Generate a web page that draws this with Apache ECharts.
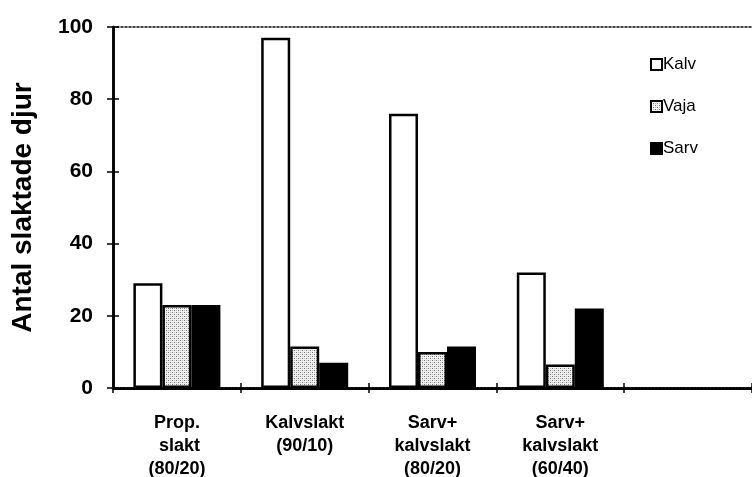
<!DOCTYPE html>
<html><head><meta charset="utf-8">
<script src="https://cdn.jsdelivr.net/npm/echarts@6/dist/echarts.min.js"></script>
<style>html,body{margin:0;padding:0;background:#fff}#c{width:752px;height:477px}</style>
</head><body><div id="c"></div>
<script>
const categories = ['Prop.\n slakt\n(80/20)', 'Kalvslakt\n(90/10)', 'Sarv+\nkalvslakt\n(80/20)', 'Sarv+\nkalvslakt\n(60/40)', ''];
const kalv = [29, 97, 76, 32, null];
const vaja = [23, 11.5, 10, 6.5, null];
const sarv = [23, 7, 11.5, 22, null];
const yTicks = [0, 20, 40, 60, 80, 100];

function makePattern() {
  const c = document.createElement('canvas');
  c.width = 4; c.height = 4;
  const g = c.getContext('2d');
  g.fillStyle = '#f0f0f0'; g.fillRect(0, 0, 4, 4);
  g.fillStyle = '#7a7a7a';
  g.fillRect(0, 0, 1, 1); g.fillRect(2, 2, 1, 1);
  g.fillStyle = '#bcbcbc';
  g.fillRect(2, 0, 1, 1); g.fillRect(0, 2, 1, 1);
  return c;
}
const pattern = { image: makePattern(), repeat: 'repeat' };

const font = "'Liberation Sans', Arial, sans-serif";
const chart = echarts.init(document.getElementById('c'), null, { renderer: 'canvas' });
const barCommon = { type: 'bar', barWidth: 29, barGap: '0%', itemStyle: { borderColor: '#000', borderWidth: 2.5 } };
chart.setOption({
  animation: false,
  backgroundColor: '#fff',
  grid: { left: 113, right: 0, top: 27, bottom: 89, containLabel: false, outerBoundsMode: 'none' },
  legend: {
    orient: 'vertical', left: 645, top: 51, icon: 'rect', itemWidth: 11, itemHeight: 11, itemGap: 25,
    textStyle: { fontFamily: font, fontSize: 17, color: '#000', padding: [0, 0, 0, -4] },
    data: ['Kalv', 'Vaja', 'Sarv']
  },
  xAxis: [
    { type: 'category', data: categories, position: 'bottom',
      axisLine: { onZero: false, lineStyle: { color: '#000', width: 3, type: [2, 1.5] } },
      axisTick: { show: true, length: 5, lineStyle: { color: '#000', width: 1.5 } },
      axisLabel: { interval: 0, margin: 24, fontFamily: font, fontWeight: 'bold', fontSize: 18, color: '#000', lineHeight: 23 } },
    { type: 'category', data: categories, position: 'top',
      axisLine: { onZero: false, lineStyle: { color: '#000', width: 1.5, type: [2, 2] } },
      axisTick: { show: false }, axisLabel: { show: false } },
    { type: 'category', data: categories, position: 'bottom',
      axisLine: { show: false, onZero: false },
      axisTick: { show: true, inside: true, length: 5, lineStyle: { color: '#000', width: 1.5 } },
      axisLabel: { show: false } }
  ],
  yAxis: [
    { type: 'value', min: 0, max: 100, interval: 20, position: 'left',
      name: 'Antal slaktade djur', nameLocation: 'middle', nameGap: 76,
      nameTextStyle: { fontFamily: font, fontWeight: 'bold', fontSize: 28, color: '#000' },
      axisLine: { show: true, onZero: false, lineStyle: { color: '#000', width: 2.5 } },
      axisTick: { show: true, length: 6, lineStyle: { color: '#000', width: 1.5 } },
      splitLine: { show: false },
      axisLabel: { margin: 20, fontFamily: font, fontWeight: 'bold', fontSize: 21, color: '#000',
        formatter: v => yTicks.includes(v) ? String(v) : '' } },
    { type: 'value', min: 0, max: 100, interval: 20, position: 'left', offset: 0,
      axisLine: { show: true, onZero: false, lineStyle: { color: '#000', width: 2.5 } },
      axisTick: { show: true, inside: true, length: 6, lineStyle: { color: '#000', width: 1.5 } },
      splitLine: { show: false }, axisLabel: { show: false } }
  ],
  series: [
    Object.assign({ name: 'Kalv', data: kalv, color: '#fff' }, barCommon),
    Object.assign({ name: 'Vaja', data: vaja, color: pattern }, barCommon),
    Object.assign({ name: 'Sarv', data: sarv, color: '#000' }, barCommon)
  ]
});
</script></body></html>
